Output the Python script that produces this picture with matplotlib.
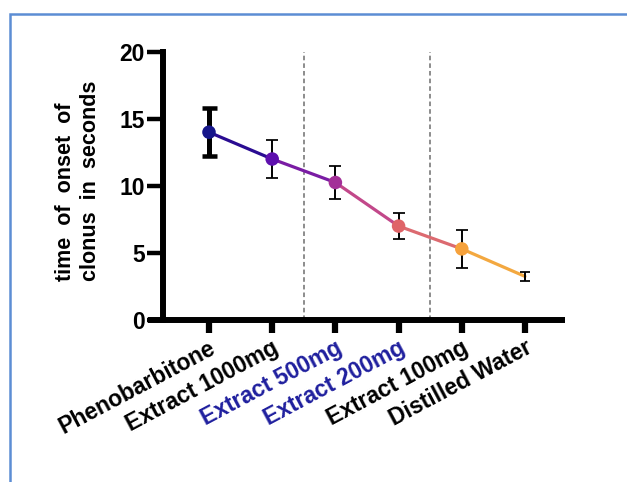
import numpy as np
import matplotlib
matplotlib.use("Agg")
import matplotlib.pyplot as plt
from matplotlib.collections import LineCollection
from matplotlib.patches import Rectangle
import matplotlib.transforms as mtransforms

# ---- data ----
groups = ["Phenobarbitone", "Extract 1000mg", "Extract 500mg",
          "Extract 200mg", "Extract 100mg", "Distilled Water"]
means = [14.0, 12.0, 10.25, 7.0, 5.3, 3.25]
errors = [1.8, 1.4, 1.2, 0.95, 1.4, 0.33]
label_colors = ["black", "black", "#1f1f9e", "#1f1f9e", "black", "black"]
marker_colors = ["#16168a", "#5e10ae", "#a32f98", "#df6468", "#f6a23c"]
segment_colors = ["#2a0c92", "#7a1ca4", "#c2488a", "#dc6a70", "#f3a840"]
yticks = [0, 5, 10, 15, 20]
dividers_after = [1, 3]
ylabel = "time  of  onset  of\nclonus  in  seconds"

plt.rcParams["font.family"] = ["Liberation Sans", "DejaVu Sans"]
plt.rcParams["font.weight"] = "bold"

W, H = 627, 482
fig = plt.figure(figsize=(W / 100, H / 100), dpi=100)
ax = fig.add_axes([148 / W, 1 - 320 / H, 417 / W, 268.3 / H])

x = np.arange(len(groups))
ax.set_xlim(-0.965, 5.633)
ax.set_ylim(0, 20)

for s in ["top", "right"]:
    ax.spines[s].set_visible(False)
ax.spines["left"].set_position(("data", -0.728))
ax.spines["left"].set_linewidth(4.3)
ax.spines["bottom"].set_linewidth(4.3)
ax.spines["bottom"].set_capstyle("butt")

# divider lines
for d in dividers_after:
    ax.plot([d + 0.5, d + 0.5], [0, 20], color="#6e6e6e", lw=1.1,
            linestyle=(0, (3, 2)), zorder=1)

# connecting line with per-segment colours
pts = np.column_stack([x, means])
segs = [pts[i:i + 2] for i in range(len(pts) - 1)]
lc = LineCollection(segs, colors=segment_colors, linewidths=2.3, zorder=2,
                    capstyle="round")
ax.add_collection(lc)

# error bars
for i in range(len(groups)):
    if i == 0:
        lw, cs = 3.6, 5.4
    else:
        lw, cs = 1.4, 4.6
    if i == len(groups) - 1:
        cs = 3.6
    ax.errorbar(x[i], means[i], yerr=errors[i], fmt="none", ecolor="black",
                elinewidth=lw, capsize=cs, capthick=lw * 0.9, zorder=3)

# markers
ax.scatter(x[:len(marker_colors)], means[:len(marker_colors)], s=95,
           c=marker_colors, zorder=4, linewidths=0)

ax.set_yticks(yticks)
ax.set_yticklabels([str(v) for v in yticks])
ax.tick_params(axis="y", length=11.5, width=3.2, pad=1.5, labelsize=16.5)
ax.set_xticks(x)
ax.set_xticklabels(groups, rotation=28, ha="right", va="center",
                   rotation_mode="anchor")
ax.tick_params(axis="x", length=9, width=4.5, pad=10, labelsize=16.5)
off = mtransforms.ScaledTranslation(0.05, 0, fig.dpi_scale_trans)
for lab, c in zip(ax.get_xticklabels(), label_colors):
    lab.set_color(c)
    lab.set_fontweight("bold")
    lab.set_transform(lab.get_transform() + off)
for lab in ax.get_yticklabels():
    lab.set_fontweight("bold")

fig.text(78 / W, 1 - 281 / H, ylabel, rotation=90, ha="center", va="bottom",
         multialignment="left", fontsize=15.5, fontweight="bold",
         linespacing=1.2)

# page border
fig.add_artist(Rectangle((10 / W, -0.5), 2, 0.5 + 1 - 14 / H, fill=False,
                         edgecolor="#5c8dd4", lw=1.8,
                         transform=fig.transFigure))

fig.savefig("out.png", dpi=100)
